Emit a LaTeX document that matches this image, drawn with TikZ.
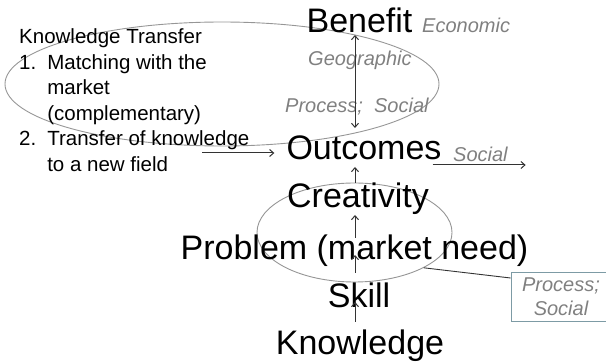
\documentclass[tikz,border=0pt]{standalone}
\usepackage{fontspec}
\setmainfont{Liberation Sans}
\usetikzlibrary{shapes.geometric,arrows.meta}
\definecolor{softgrey}{RGB}{128,128,128}
\definecolor{ringgrey}{RGB}{150,150,150}
\definecolor{boxblue}{RGB}{125,155,165}

\begin{document}
\begin{tikzpicture}[x=1pt, y=-1pt,
  >={Straight Barb[length=4pt,width=7pt]},
  every node/.style = {inner sep=0pt},
  big/.style = {anchor=base, font=\fontsize{34}{40}\selectfont},
  note/.style = {anchor=base west, text=softgrey,
    font=\fontsize{20}{25}\selectfont\itshape},
  ring/.style = {ellipse, draw=ringgrey, line width=0.9pt},
  procbox/.style = {draw=boxblue, line width=0.9pt, align=center,
    minimum width=100pt, minimum height=49pt, text=softgrey,
    font=\fontsize{20}{24}\selectfont\itshape},
  arr/.style = {draw=black!80, line width=1pt}]
  \useasboundingbox (0,0) rectangle (606,363);
  \coordinate (axis) at (355,0);

  \node[ring, minimum width=434pt, minimum height=124pt] (topring) at (222,84) {};
  \node[ring, minimum width=195pt, minimum height=99pt] (lowring) at (354.5,232.5) {};

  \node[big] (benefit) at (359.5,33) {Benefit};
  \node[big] (outcomes) at (364,160) {Outcomes};
  \node[big] (creativity) at (358,208) {Creativity};
  \node[big] (problem) at (354.5,260) {Problem (market need)};
  \node[big] (skill) at (359,308) {Skill};
  \node[big] (knowledge) at (360,355) {Knowledge};

  \node[note] (economic) at (422,33) {Economic};
  \node[note] (geographic) at (308,66) {Geographic};
  \node[note] (procsocial) at (285,113) {Process;\ \ Social};
  \node[note] (outsocial) at (453,162) {Social};

  \node[anchor=base west, font=\fontsize{20.5}{25.5}\selectfont] (kt) at (19,44)
    {\begin{tabular}[t]{@{}l@{\hspace{11pt}}l@{}}
      \multicolumn{2}{@{}l@{}}{Knowledge Transfer}\\
      1. & Matching with the\\
         & market\\
         & (complementary)\\
      2. & Transfer of knowledge\\
         & to a new field
    \end{tabular}};

  \node[procbox] (procbox) at (561,296.5) {Process;\\Social};

  \draw[arr, <->] ([yshift=-2pt]benefit.base -| axis) -- ([yshift=32pt]outcomes.base -| axis);
  \draw[arr, ->] ([yshift=25pt]creativity.base -| axis) -- ([yshift=-7pt]outcomes.base -| axis);
  \draw[arr, ->] ([yshift=22pt]problem.base -| axis) -- ([yshift=-7pt]creativity.base -| axis);
  \draw[arr, ->] ([yshift=35pt]skill.base -| axis) -- ([yshift=5pt]problem.base -| axis);
  \draw[arr, ->] ([yshift=33pt]knowledge.base -| axis) -- ([yshift=6pt]skill.base -| axis);
  \draw[arr, ->] ([xshift=-84pt,yshift=7pt]outcomes.base west) -- ([xshift=-12pt,yshift=7pt]outcomes.base west);
  \draw[arr, ->] ([xshift=-9pt,yshift=-5pt]outcomes.base east) -- ([xshift=84pt,yshift=-5pt]outcomes.base east);
  \draw[arr, line width=0.9pt] (lowring.-27) -- ([yshift=18.5pt]procbox.west);
\end{tikzpicture}
\end{document}
